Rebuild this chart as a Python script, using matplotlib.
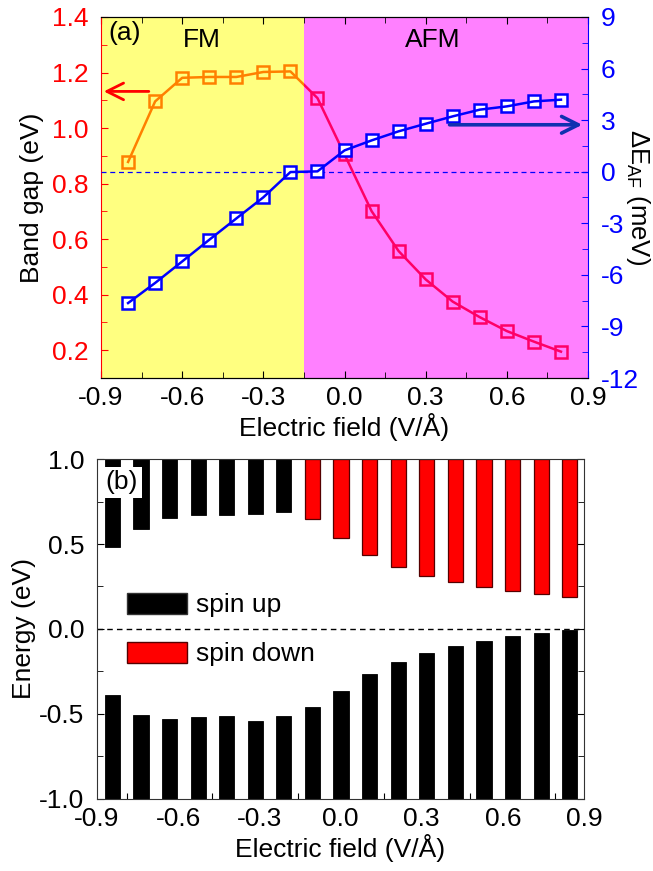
import matplotlib
matplotlib.use('Agg')
import matplotlib.pyplot as plt
from matplotlib.ticker import MultipleLocator, FixedLocator, NullFormatter

plt.rcParams['font.family'] = ['Liberation Sans', 'DejaVu Sans']
plt.rcParams['axes.unicode_minus'] = False
plt.rcParams['mathtext.fontset'] = 'custom'
plt.rcParams['mathtext.rm'] = 'Liberation Sans'
plt.rcParams['mathtext.it'] = 'Liberation Sans'

# ---------------- data ----------------
field_fm = [-0.8, -0.7, -0.6, -0.5, -0.4, -0.3, -0.2]
gap_fm = [0.878, 1.096, 1.181, 1.184, 1.184, 1.202, 1.204]
field_afm = [-0.1, 0.0, 0.1, 0.2, 0.3, 0.4, 0.5, 0.6, 0.7, 0.8]
gap_afm = [1.108, 0.905, 0.701, 0.557, 0.455, 0.375, 0.319, 0.269, 0.231, 0.195]

field = field_fm + field_afm
dE_af = [-7.64, -6.47, -5.22, -3.96, -2.72, -1.49, -0.02, 0.02, 1.24, 1.82,
         2.35, 2.79, 3.22, 3.61, 3.80, 4.09, 4.19]

cb_edge = [0.484, 0.586, 0.651, 0.669, 0.669, 0.678, 0.688, 0.649, 0.535,
           0.435, 0.363, 0.312, 0.275, 0.245, 0.222, 0.204, 0.186]
cb_spin = ['up'] * 7 + ['down'] * 10
vb_edge = [-0.390, -0.508, -0.529, -0.516, -0.514, -0.541, -0.514, -0.459,
           -0.365, -0.265, -0.192, -0.139, -0.098, -0.069, -0.043, -0.025, -0.008]

boundary = -0.15
FS = 19

YELLOW = '#FFFF80'
MAGENTA = '#FF80FF'
ORANGE = '#FF8000'
PINK = '#FF0066'
BLUE = '#0000FF'

fig = plt.figure(figsize=(6.53, 8.71), dpi=100)

# ---------------- panel (a) ----------------
ax = fig.add_axes([0.1547, 0.566, 0.7458, 0.4145])
ax.set_xlim(-0.9, 0.9)
ax.set_ylim(0.1, 1.4)
fm_span = ax.axvspan(-0.9, boundary, color=YELLOW, zorder=0, lw=0)
afm_span = ax.axvspan(boundary, 0.9, color=MAGENTA, zorder=0, lw=0)

gap_all = gap_fm + gap_afm
l1, = ax.plot(field, gap_all, color=ORANGE, lw=1.8, zorder=3)
l1.set_clip_path(fm_span)
l2, = ax.plot(field, gap_all, color=PINK, lw=1.8, zorder=3)
l2.set_clip_path(afm_span)
ax.plot(field_fm, gap_fm, ls='none', marker='s', ms=8, mfc='none',
        mec=ORANGE, mew=1.8, zorder=4)
ax.plot(field_afm, gap_afm, ls='none', marker='s', ms=8, mfc='none',
        mec=PINK, mew=1.8, zorder=4)

ax.annotate('', xy=(-0.9, 1.132), xytext=(-0.713, 1.132),
            arrowprops=dict(arrowstyle='->', color='#FF0000', lw=2,
                            mutation_scale=30), zorder=5)

ax.xaxis.set_major_locator(MultipleLocator(0.3))
ax.xaxis.set_minor_locator(MultipleLocator(0.15))
ax.yaxis.set_major_locator(MultipleLocator(0.2))
ax.yaxis.set_minor_locator(MultipleLocator(0.1))
ax.xaxis.set_major_formatter(matplotlib.ticker.FormatStrFormatter('%.1f'))
ax.yaxis.set_major_formatter(matplotlib.ticker.FormatStrFormatter('%.1f'))
ax.tick_params(axis='x', which='both', direction='in', top=True, labelsize=FS,
               pad=6)
ax.tick_params(axis='x', which='major', length=5)
ax.tick_params(axis='x', which='minor', length=4)
ax.tick_params(axis='y', which='both', direction='in', colors='#FF0000',
               labelsize=FS, pad=9, right=False)
ax.tick_params(axis='y', which='major', length=5)
ax.tick_params(axis='y', which='minor', length=4)
ax.spines['left'].set_color('#FF0000')
ax.spines['right'].set_visible(False)
ax.set_xlabel('Electric field (V/Å)', fontsize=FS, labelpad=2)
ax.set_ylabel('Band gap (eV)', fontsize=FS, color='black', labelpad=6)

ax.text(0.016, 0.956, '(a)', transform=ax.transAxes, fontsize=FS,
        ha='left', va='center', zorder=6)
ax.text(-0.528, 0.936, 'FM', transform=ax.get_xaxis_transform(), fontsize=FS,
        ha='center', va='center', zorder=6)
ax.text(0.327, 0.936, 'AFM', transform=ax.get_xaxis_transform(), fontsize=FS,
        ha='center', va='center', zorder=6)

axr = ax.twinx()
axr.set_ylim(-12, 9)
axr.axhline(0, color=BLUE, lw=0.9, ls=(0, (4, 3)), zorder=2)
axr.plot(field, dE_af, color=BLUE, lw=1.8, zorder=4)
axr.plot(field, dE_af, ls='none', marker='s', ms=8, mfc='white',
         mec=BLUE, mew=1.8, zorder=3)
axr.annotate('', xy=(0.889, 2.73), xytext=(0.378, 2.73),
             arrowprops=dict(arrowstyle='->', color='#1030B0', lw=2.6,
                             mutation_scale=30), zorder=5)
axr.yaxis.set_major_locator(MultipleLocator(3))
axr.yaxis.set_minor_locator(MultipleLocator(1.5))
axr.tick_params(axis='y', which='both', direction='in', colors=BLUE,
                labelsize=FS, pad=9)
axr.tick_params(axis='y', which='major', length=5)
axr.tick_params(axis='y', which='minor', length=4)
axr.spines['right'].set_color(BLUE)
axr.spines['left'].set_visible(False)
axr.set_ylabel(r'ΔE$_{\rm AF}$ (meV)', fontsize=18.5, rotation=270,
               color='black', ha='center', va='center')
axr.yaxis.set_label_coords(1.102, 0.5)

# ---------------- panel (b) ----------------
bx = fig.add_axes([0.1485, 0.0827, 0.7458, 0.3903])
bx.set_ylim(-1.0, 1.0)
bx.set_xlim(-0.854, 0.850)
bar_w = 0.053

ymax, ymin = 1.0, -1.0
for x, e, s in zip(field, cb_edge, cb_spin):
    if s == 'up':
        bx.bar(x, ymax - e, bottom=e, width=bar_w, color='black',
               edgecolor='black', lw=0.6, zorder=2)
    else:
        bx.bar(x, ymax - e, bottom=e, width=bar_w, color='#FF0000',
               edgecolor='#550000', lw=0.9, zorder=2)
bx.bar(field, [v - ymin for v in vb_edge], bottom=ymin, width=bar_w,
       color='black', edgecolor='black', lw=0.6, zorder=2)
bx.axhline(0, color='black', lw=1.0, ls=(0, (4, 3)), zorder=1)

# legend handles
h_up = plt.Rectangle((0, 0), 1, 1, facecolor='black', edgecolor='#333333')
h_dn = plt.Rectangle((0, 0), 1, 1, facecolor='#FF0000', edgecolor='#550000')
bx.legend([h_up, h_dn], ['spin up', 'spin down'], loc='upper left',
          bbox_to_anchor=(0.062, 0.607), frameon=False, fontsize=FS,
          handlelength=2.25, handleheight=0.85, handletextpad=0.35,
          labelspacing=0.92, borderpad=0, borderaxespad=0)

bx.text(0.018, 0.932, '(b)', transform=bx.transAxes, fontsize=FS,
        ha='left', va='center', zorder=6,
        bbox=dict(facecolor='white', edgecolor='none', pad=2.5))

bx.yaxis.set_major_locator(MultipleLocator(0.5))
bx.yaxis.set_minor_locator(MultipleLocator(0.25))
bx.yaxis.set_major_formatter(matplotlib.ticker.FormatStrFormatter('%.1f'))
bx.tick_params(axis='y', which='both', direction='in', right=True,
               labelsize=FS, pad=9)
bx.tick_params(axis='y', which='major', length=5)
bx.tick_params(axis='y', which='minor', length=4)
bx.xaxis.set_major_locator(FixedLocator([-0.75, -0.45, -0.15, 0.15, 0.45, 0.75]))
bx.xaxis.set_major_formatter(NullFormatter())
bx.tick_params(axis='x', which='both', direction='in', length=4)
for sp in bx.spines.values():
    sp.set_color('#333333')
bx.set_ylabel('Energy (eV)', fontsize=FS, labelpad=2)

bl = bx.twiny()
bl.set_xlim(-0.9, 0.9)
bl.xaxis.set_ticks_position('bottom')
bl.xaxis.set_label_position('bottom')
bl.xaxis.set_major_locator(MultipleLocator(0.3))
bl.xaxis.set_major_formatter(matplotlib.ticker.FormatStrFormatter('%.1f'))
bl.tick_params(axis='x', which='both', length=0, labelsize=FS, pad=6)
bl.set_xlabel('Electric field (V/Å)', fontsize=FS, labelpad=2)
for sp in bl.spines.values():
    sp.set_visible(False)

fig.savefig('out.png', dpi=100)
